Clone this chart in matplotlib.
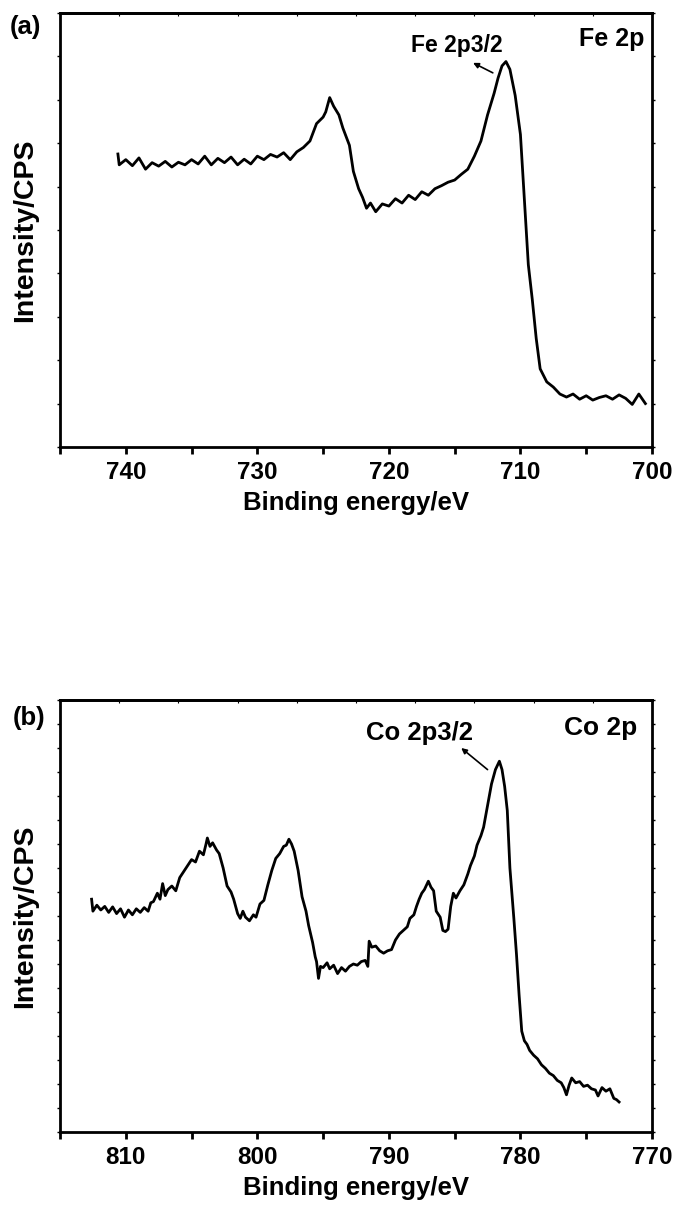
import numpy as np
import matplotlib
matplotlib.use('Agg')
import matplotlib.pyplot as plt
from matplotlib.ticker import MultipleLocator, NullFormatter

# Fe 2p spectrum (binding energy in eV, intensity in arbitrary CPS units)
fe_energy = [740.6, 740.5, 740.0, 739.5, 739.0, 738.5, 738.0, 737.5, 737.0, 736.5,
             736.0, 735.5, 735.0, 734.5, 734.0, 733.5, 733.0, 732.5, 732.0, 731.5,
             731.0, 730.5, 730.0, 729.5, 729.0, 728.5, 728.0, 727.5, 727.0, 726.5,
             726.0, 725.5, 725.0, 724.8, 724.5, 724.2, 723.8, 723.5, 723.0, 722.7,
             722.3, 722.0, 721.7, 721.4, 721.0, 720.5, 720.0, 719.5, 719.0, 718.5,
             718.0, 717.5, 717.0, 716.5, 716.0, 715.5, 715.0, 714.5, 714.0, 713.5,
             713.0, 712.5, 712.0, 711.7, 711.4, 711.1, 710.8, 710.4, 710.0, 709.7,
             709.4, 709.1, 708.8, 708.5, 708.2, 708.0, 707.5, 707.0, 706.5, 706.0,
             705.5, 705.0, 704.5, 704.0, 703.5, 703.0, 702.5, 702.0, 701.5, 701.0,
             700.5]
fe_intensity = [6.75, 6.50, 6.62, 6.48, 6.66, 6.40, 6.55, 6.47, 6.58, 6.45,
                6.56, 6.50, 6.62, 6.52, 6.70, 6.50, 6.65, 6.55, 6.68, 6.50,
                6.63, 6.52, 6.70, 6.62, 6.74, 6.68, 6.78, 6.62, 6.80, 6.90,
                7.05, 7.45, 7.60, 7.72, 8.05, 7.85, 7.65, 7.35, 6.95, 6.35,
                5.95, 5.75, 5.50, 5.62, 5.42, 5.60, 5.55, 5.72, 5.62, 5.80,
                5.70, 5.88, 5.80, 5.95, 6.02, 6.10, 6.15, 6.28, 6.40, 6.70,
                7.05, 7.65, 8.15, 8.50, 8.78, 8.88, 8.70, 8.10, 7.20, 5.70,
                4.20, 3.40, 2.50, 1.80, 1.62, 1.50, 1.38, 1.22, 1.15, 1.22,
                1.10, 1.18, 1.08, 1.14, 1.18, 1.10, 1.20, 1.12, 0.98, 1.22,
                1.00]

# Co 2p spectrum
co_energy = [812.6, 812.5, 812.2, 811.9, 811.6, 811.3, 811.0, 810.7, 810.4, 810.1,
             809.8, 809.5, 809.2, 808.9, 808.6, 808.3, 808.1, 807.9, 807.6, 807.4,
             807.2, 807.0, 806.8, 806.5, 806.2, 805.9, 805.6, 805.3, 805.0, 804.7,
             804.4, 804.1, 803.9, 803.8, 803.6, 803.4, 803.1, 802.9, 802.6, 802.3,
             802.0, 801.8, 801.5, 801.3, 801.1, 800.9, 800.6, 800.3, 800.1, 799.8,
             799.5, 799.2, 798.9, 798.6, 798.3, 798.0, 797.8, 797.6, 797.4, 797.2,
             796.9, 796.6, 796.3, 796.1, 795.8, 795.6, 795.5, 795.35, 795.2, 795.0,
             794.7, 794.5, 794.2, 793.9, 793.6, 793.3, 793.0, 792.7, 792.4, 792.1,
             791.8, 791.6, 791.5, 791.3, 791.0, 790.7, 790.4, 790.1, 789.8, 789.5,
             789.2, 788.9, 788.6, 788.4, 788.1, 787.9, 787.7, 787.5, 787.3, 787.0,
             786.8, 786.6, 786.4, 786.1, 785.9, 785.7, 785.5, 785.3, 785.1, 784.9,
             784.6, 784.3, 784.0, 783.8, 783.5, 783.3, 783.0, 782.8, 782.5, 782.2,
             781.9, 781.6, 781.4, 781.2, 781.0, 780.8, 780.5, 780.3, 780.1, 779.9,
             779.7, 779.5, 779.3, 779.0, 778.7, 778.4, 778.1, 777.8, 777.5, 777.2,
             776.9, 776.7, 776.5, 776.3, 776.1, 775.8, 775.5, 775.2, 774.9, 774.6,
             774.3, 774.1, 773.8, 773.5, 773.2, 772.9, 772.7, 772.5]
co_intensity = [9.70, 9.20, 9.45, 9.25, 9.40, 9.15, 9.38, 9.10, 9.30, 8.95,
                9.25, 9.05, 9.30, 9.15, 9.35, 9.20, 9.55, 9.60, 9.95, 9.70,
                10.35, 9.85, 10.10, 10.25, 10.05, 10.60, 10.85, 11.10, 11.35, 11.25,
                11.70, 11.55, 12.00, 12.25, 11.90, 12.05, 11.75, 11.60, 11.00, 10.25,
                10.00, 9.70, 9.10, 8.90, 9.20, 8.95, 8.80, 9.05, 8.95, 9.50,
                9.65, 10.30, 10.90, 11.40, 11.60, 11.90, 11.95, 12.20, 12.00, 11.70,
                10.90, 9.80, 9.20, 8.60, 7.90, 7.30, 7.10, 6.40, 6.90, 6.85,
                7.05, 6.80, 6.95, 6.60, 6.85, 6.70, 6.90, 7.00, 6.95, 7.10,
                7.15, 6.90, 7.95, 7.70, 7.75, 7.55, 7.45, 7.55, 7.60, 8.00,
                8.25, 8.40, 8.55, 8.90, 9.05, 9.40, 9.70, 9.95, 10.10, 10.45,
                10.20, 10.05, 9.20, 8.95, 8.40, 8.35, 8.45, 9.40, 9.95, 9.75,
                10.05, 10.30, 10.75, 11.10, 11.50, 11.95, 12.35, 12.70, 13.60, 14.50,
                15.10, 15.45, 15.10, 14.40, 13.40, 11.00, 8.90, 7.40, 5.70, 4.20,
                3.80, 3.65, 3.40, 3.20, 3.05, 2.80, 2.65, 2.45, 2.35, 2.15,
                2.05, 1.85, 1.55, 1.95, 2.25, 2.05, 2.10, 1.90, 1.95, 1.80,
                1.75, 1.50, 1.85, 1.70, 1.80, 1.40, 1.35, 1.25]

FONT = ['Liberation Sans', 'DejaVu Sans']


def style_axes(ax, xlim, ylim):
    ax.set_xlim(*xlim)
    ax.set_ylim(*ylim)
    for s in ax.spines.values():
        s.set_linewidth(2.0)
    ax.xaxis.set_major_locator(MultipleLocator(10))
    ax.xaxis.set_minor_locator(MultipleLocator(5))
    ax.yaxis.set_major_locator(MultipleLocator(1))
    ax.yaxis.set_major_formatter(NullFormatter())
    ax.tick_params(axis='x', which='both', direction='out', length=5, width=2,
                   pad=5, labelsize=17.5)
    ax.tick_params(axis='y', which='both', direction='out', length=2.5, width=1,
                   left=True, right=True)
    for lab in ax.get_xticklabels():
        lab.set_family(FONT)
        lab.set_fontweight('bold')
    # small marks on the top spine, ten equal divisions
    top = ax.secondary_xaxis('top')
    top.set_xticks(np.linspace(xlim[0], xlim[1], 11))
    top.tick_params(direction='in', length=2, width=0.8, labeltop=False)
    top.spines['top'].set_linewidth(2.0)
    ax.set_xlabel('Binding energy/eV', family=FONT, fontweight='bold',
                  fontsize=18.5, labelpad=5)
    ax.set_ylabel('Intensity/CPS', family=FONT, fontweight='bold',
                  fontsize=20.5, labelpad=10)


fig = plt.figure(figsize=(6.79, 12.09), dpi=100)
ax1 = fig.add_axes([0.0884, 0.6303, 0.8718, 0.3590])
ax2 = fig.add_axes([0.0884, 0.0637, 0.8718, 0.3573])

ax1.plot(fe_energy, fe_intensity, color='black', lw=2.0)
style_axes(ax1, (745, 700), (0, 10))
ax1.text(0.988, 0.940, 'Fe 2p', transform=ax1.transAxes, ha='right', va='center',
         family=FONT, fontweight='bold', fontsize=18)
ax1.text(714.86, 9.26, 'Fe 2p3/2', ha='center', va='center',
         family=FONT, fontweight='bold', fontsize=16.5)
ax1.annotate('', xy=(713.6, 8.85), xytext=(712.1, 8.62),
             arrowprops=dict(arrowstyle='-|>', color='black', lw=1.2,
                             mutation_scale=8, shrinkA=0, shrinkB=0))
fig.text(0.038, 0.9777, '(a)', ha='center', va='center', family=FONT,
         fontweight='bold', fontsize=18.5)

ax2.plot(co_energy, co_intensity, color='black', lw=2.0)
style_axes(ax2, (815, 770), (0, 18))
ax2.text(0.975, 0.935, 'Co 2p', transform=ax2.transAxes, ha='right', va='center',
         family=FONT, fontweight='bold', fontsize=19)
ax2.text(787.7, 16.63, 'Co 2p3/2', ha='center', va='center',
         family=FONT, fontweight='bold', fontsize=18.5)
ax2.annotate('', xy=(784.5, 16.0), xytext=(782.5, 15.1),
             arrowprops=dict(arrowstyle='-|>', color='black', lw=1.2,
                             mutation_scale=8, shrinkA=0, shrinkB=0))
fig.text(0.043, 0.406, '(b)', ha='center', va='center', family=FONT,
         fontweight='bold', fontsize=18.5)

fig.savefig('out.png', dpi=100)
